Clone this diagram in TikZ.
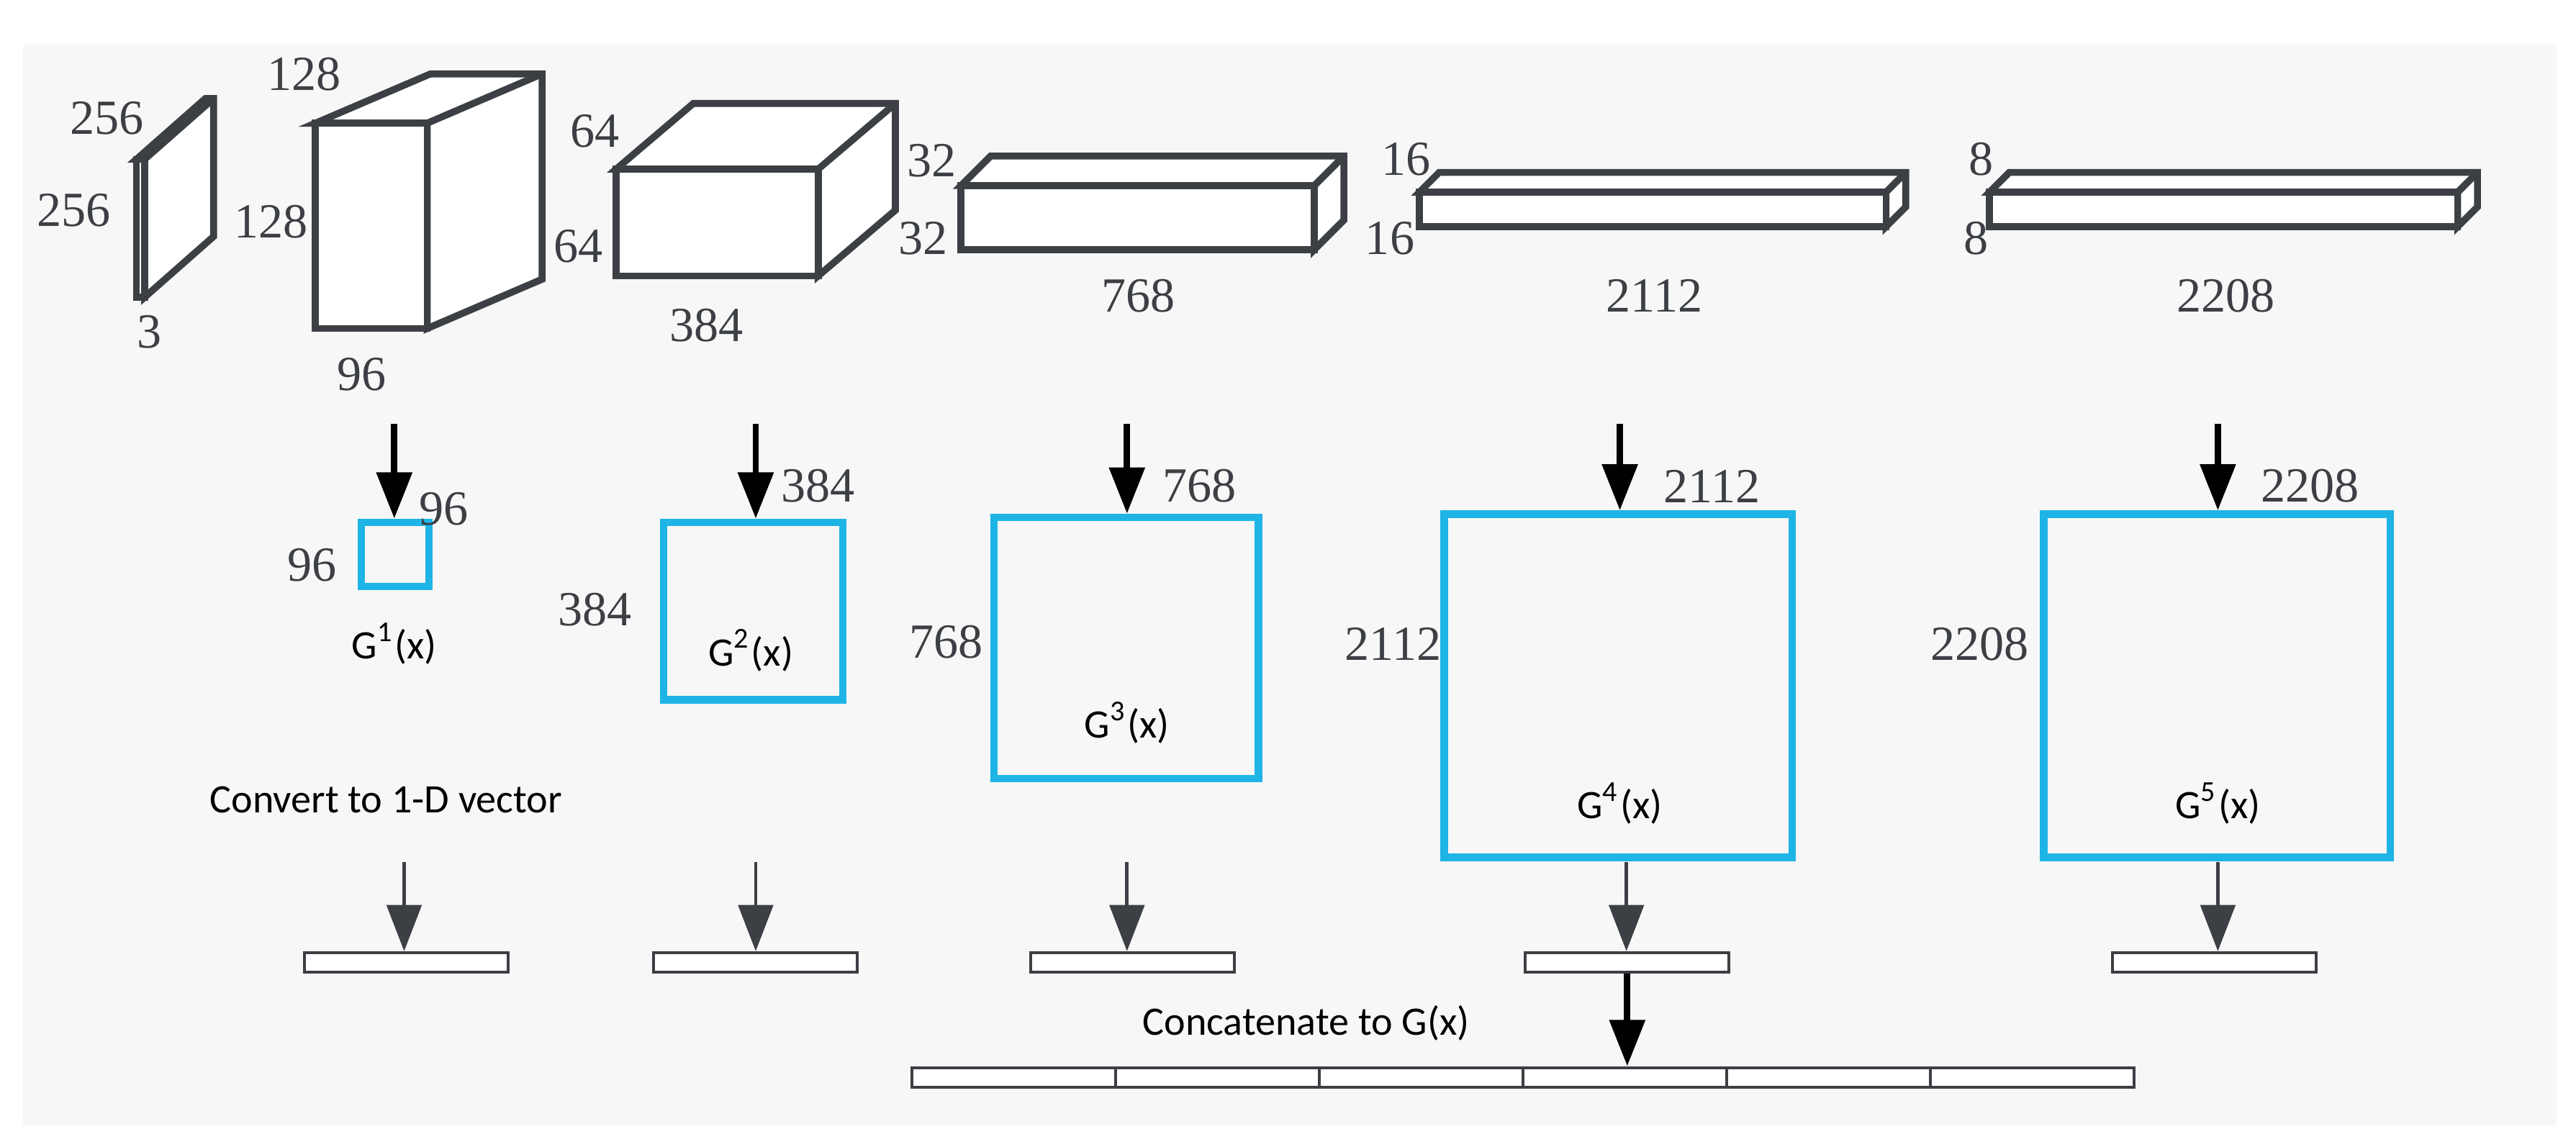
\documentclass[tikz,border=0pt]{standalone}
\usepackage{fontspec}
\setmainfont{Liberation Serif}
\newfontfamily\labelfont{Carlito}
\usetikzlibrary{positioning, arrows.meta}
\usepackage{xcolor}
\definecolor{bgray}{HTML}{F7F7F7}
\definecolor{ink}{HTML}{3C3F44}
\definecolor{gblue}{HTML}{1EB4E6}

\begin{document}
\begin{tikzpicture}[
                x=0.1mm, y=-0.1mm,
                cube/.style={draw=ink, line width=1.2pt, fill=white, line join=miter},
                dim/.style={inner sep=0pt, text=ink, font=\fontsize{8.5}{10}\selectfont},
                gram/.style={draw=gblue, line width=1.3pt, inner sep=0pt},
                glabel/.style={inner sep=0pt, font=\labelfont\fontsize{7}{8}\selectfont},
                vec/.style={draw=ink, line width=0.5pt, fill=white, minimum width=12.4mm, minimum height=1.2mm, inner sep=0pt},
                arrow/.style={-{Triangle[width=6pt,length=8pt]}, line width=1.1pt},
                garrow/.style={-{Triangle[width=6pt,length=8pt]}, line width=0.6pt, ink}
            ]
            \useasboundingbox (0,0) rectangle (1568,698);
            \fill[bgray] (14,27) rectangle (1556,685);

            % feature maps as cuboids: x/y of front face, width/height, depth offset
            \foreach \x/\y/\w/\h/\dx/\dy in {83/97/5/84/42/37, 192/75/68/125/70/30, 375/103/123/65/47/40, 585/113/215/39/18/18, 864/117/284/21/12/12, 1211/117/285/21/12/12}{
                \draw[cube] (\x,\y) -- ++(\dx,-\dy) -- ++(\w,0) -- ++(0,\h) -- ++(-\dx,\dy) -- ++(0,-\h) -- cycle;
                \draw[cube] (\x,\y) rectangle ++(\w,\h);
                \draw[cube] (\x+\w,\y) -- ++(\dx,-\dy);
            }

            \node[dim] at (65,72) {256};
            \node[dim] at (45,128) {256};
            \node[dim] at (91,202) {3};
            \node[dim] at (185,45) {128};
            \node[dim] at (165,135) {128};
            \node[dim] at (220,228) {96};
            \node[dim] at (362,80) {64};
            \node[dim] at (352,150) {64};
            \node[dim] at (430,198) {384};
            \node[dim] at (567,98) {32};
            \node[dim] at (562,145) {32};
            \node[dim] at (693,180) {768};
            \node[dim] at (856,97) {16};
            \node[dim] at (846,145) {16};
            \node[dim] at (1007,180) {2112};
            \node[dim] at (1206,97) {8};
            \node[dim] at (1203,145) {8};
            \node[dim] at (1355,180) {2208};

            % Gram matrices
            \node[gram, minimum width=4.1mm, minimum height=3.9mm] (g1) at (240.5,337.5) {};
            \node[gram, minimum width=10.9mm, minimum height=10.8mm] (g2) at (458.5,372) {};
            \node[gram, minimum width=16.1mm, minimum height=15.9mm] (g3) at (685.5,394.5) {};
            \node[gram, minimum width=21.2mm, minimum height=20.9mm] (g4) at (985,417.5) {};
            \node[gram, minimum width=21.1mm, minimum height=20.9mm] (g5) at (1349.5,417.5) {};

            \node[dim] at (270,310) {96};
            \node[dim] at (190,344) {96};
            \node[dim] at (498,296) {384};
            \node[dim] at (362,371) {384};
            \node[dim] at (730,296) {768};
            \node[dim] at (576,391) {768};
            \node[dim] at (1042,296) {2112};
            \node[dim] at (848,392) {2112};
            \node[dim] at (1406,296) {2208};
            \node[dim] at (1205,392) {2208};

            \node[glabel] at (240,392) {G\textsuperscript{1}(x)};
            \node[glabel] at (457,396) {G\textsuperscript{2}(x)};
            \node[glabel] at (686,440) {G\textsuperscript{3}(x)};
            \node[glabel] at (986,489) {G\textsuperscript{4}(x)};
            \node[glabel] at (1350,489) {G\textsuperscript{5}(x)};
            \node[glabel] at (235,487) {Convert to 1-D vector};
            \node[glabel] at (795,623) {Concatenate to G(x)};

            % 1-D vectors
            \node[vec] (v1) at (247.5,586) {};
            \node[vec] (v2) at (460,586) {};
            \node[vec] (v3) at (689.5,586) {};
            \node[vec] (v4) at (990.5,586) {};
            \node[vec] (v5) at (1348,586) {};

            % concatenated vector
            \foreach \i in {0,...,5}{
                \node[vec] (c\i) at (617+124*\i,656) {};
            }

            \foreach \i/\x in {1/240, 2/460, 3/686, 4/986, 5/1350}{
                \coordinate (t\i) at (\x,258);
                \draw[arrow] (t\i) -- (t\i |- g\i.north);
            }
            \foreach \i/\x in {1/246, 2/460, 3/686, 4/990, 5/1350}{
                \coordinate (s\i) at (\x,525);
                \draw[garrow] (s\i) -- (s\i |- v\i.north);
            }
            \draw[arrow] (v4.south) -- (v4.south |- c3.north);
        \end{tikzpicture}
\end{document}
